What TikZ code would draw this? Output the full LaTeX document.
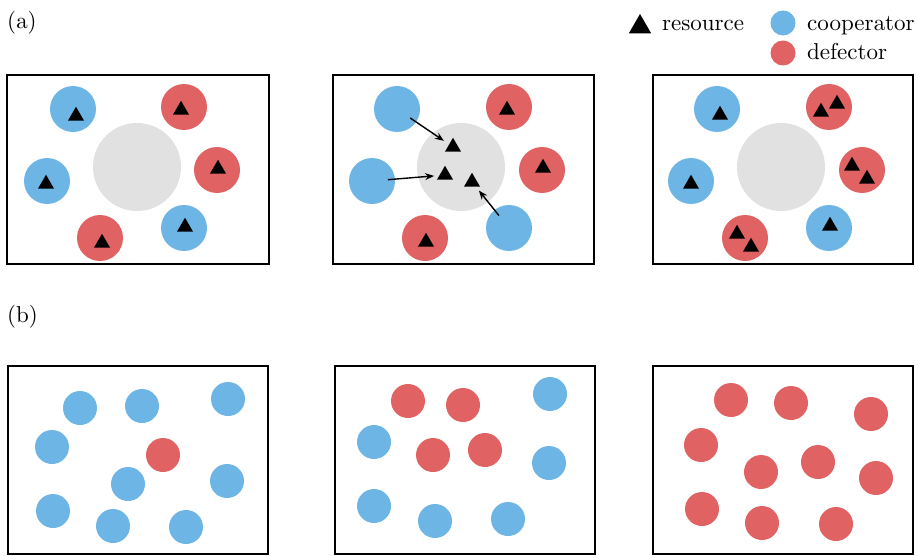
\documentclass[tikz,border=0pt]{standalone}
\usepackage{tikz}
\usetikzlibrary{shapes.geometric,arrows.meta}
\definecolor{coopblue}{RGB}{108,181,229}
\definecolor{defred}{RGB}{224,98,98}
\definecolor{poolgray}{RGB}{225,225,225}
\font\lblfont=cmr10 at 23pt

\begin{document}
\begin{tikzpicture}[x=1pt,y=-1pt,
    agent/.style={circle,inner sep=0pt,minimum size=46pt},
    coop/.style={agent,fill=coopblue},
    defe/.style={agent,fill=defred},
    tiny/.style={minimum size=34pt},
    pool/.style={circle,inner sep=0pt,minimum size=88pt,fill=poolgray},
    res/.style={regular polygon,regular polygon sides=3,fill=black,inner sep=0pt,minimum size=18.5pt},
    frame/.style={draw=black,line width=1.6pt},
    arr/.style={-{Stealth[length=9pt,width=7pt]},line width=1.4pt,shorten <=16pt,shorten >=11pt},
    lbl/.style={font=\lblfont,inner sep=0pt,anchor=base west}]
      \useasboundingbox (0,0) rectangle (918,556);

      % panel labels
      \node[lbl] (la) at (7,29) {(a)};
      \node[lbl] (lb) at (7,322) {(b)};

      % legend
      \node[res,minimum size=26pt] (legres) at (640,27) {};
      \node[lbl] (legrestxt) at (662,31) {resource};
      \node[agent,fill=coopblue,minimum size=25pt] (legcoop) at (783,23) {};
      \node[lbl] (legcooptxt) at (807,31) {cooperator};
      \node[agent,fill=defred,minimum size=25pt] (legdef) at (783,53) {};
      \node[lbl] (legdeftxt) at (807,60) {defector};

      % (a) first panel
      \draw[frame] (7,75) rectangle (269,264);
      \node[pool] (p1) at (137,167) {};
      \node[coop] (c1a) at (73,109) {};
      \node[defe] (d1a) at (184,107) {};
      \node[coop] (c1b) at (47,181) {};
      \node[defe] (d1b) at (217,170) {};
      \node[defe] (d1c) at (100,238) {};
      \node[coop] (c1c) at (184,228) {};
      \node[res] (r1a) at (76,116) {};
      \node[res] (r1b) at (181,110) {};
      \node[res] (r1c) at (46,184) {};
      \node[res] (r1d) at (218,169) {};
      \node[res] (r1e) at (102,243) {};
      \node[res] (r1f) at (185,227) {};

      % (a) second panel
      \draw[frame] (333,75) rectangle (594,264);
      \node[pool] (p2) at (461,167) {};
      \node[coop] (c2a) at (397,109) {};
      \node[defe] (d2a) at (509,107) {};
      \node[coop] (c2b) at (372,181) {};
      \node[defe] (d2b) at (542,170) {};
      \node[defe] (d2c) at (425,238) {};
      \node[coop] (c2c) at (509,228) {};
      \node[res] (r2a) at (453,147) {};
      \node[res] (r2b) at (445,175) {};
      \node[res] (r2c) at (472,182) {};
      \node[res] (r2d) at (507,110) {};
      \node[res] (r2e) at (543,168) {};
      \node[res] (r2f) at (426,242) {};
      \draw[arr] (c2a.center) -- (r2a.center);
      \draw[arr] (c2b.center) -- (r2b.center);
      \draw[arr] (c2c.center) -- (r2c.center);

      % (a) third panel
      \draw[frame] (653,75) rectangle (913,264);
      \node[pool] (p3) at (781,167) {};
      \node[coop] (c3a) at (717,109) {};
      \node[defe] (d3a) at (829,107) {};
      \node[coop] (c3b) at (691,181) {};
      \node[defe] (d3b) at (862,170) {};
      \node[defe] (d3c) at (745,238) {};
      \node[coop] (c3c) at (829,228) {};
      \node[res] (r3a) at (720,115) {};
      \node[res] (r3b) at (821,112) {};
      \node[res] (r3c) at (837,104) {};
      \node[res] (r3d) at (691,184) {};
      \node[res] (r3e) at (852,166) {};
      \node[res] (r3f) at (867,179) {};
      \node[res] (r3g) at (737,234) {};
      \node[res] (r3h) at (751,247) {};
      \node[res] (r3i) at (830,226) {};

      % (b) first panel
      \draw[frame] (8,366) rectangle (268,554);
      \node[coop,tiny] (b1a) at (80,408) {};
      \node[coop,tiny] (b1b) at (142,406) {};
      \node[coop,tiny] (b1c) at (228,399) {};
      \node[coop,tiny] (b1d) at (52,447) {};
      \node[defe,tiny] (b1e) at (163,455) {};
      \node[coop,tiny] (b1f) at (128,484) {};
      \node[coop,tiny] (b1g) at (227,481) {};
      \node[coop,tiny] (b1h) at (53,511) {};
      \node[coop,tiny] (b1i) at (113,526) {};
      \node[coop,tiny] (b1j) at (186,527) {};

      % (b) second panel
      \draw[frame] (335,366) rectangle (595,554);
      \node[defe,tiny] (b2a) at (408,401) {};
      \node[defe,tiny] (b2b) at (463,405) {};
      \node[coop,tiny] (b2c) at (550,394) {};
      \node[coop,tiny] (b2d) at (374,442) {};
      \node[defe,tiny] (b2e) at (433,455) {};
      \node[defe,tiny] (b2f) at (485,450) {};
      \node[coop,tiny] (b2g) at (549,463) {};
      \node[coop,tiny] (b2h) at (374,506) {};
      \node[coop,tiny] (b2i) at (435,521) {};
      \node[coop,tiny] (b2j) at (508,519) {};

      % (b) third panel
      \draw[frame] (653,366) rectangle (913,554);
      \node[defe,tiny] (b3a) at (731,400) {};
      \node[defe,tiny] (b3b) at (791,403) {};
      \node[defe,tiny] (b3c) at (871,414) {};
      \node[defe,tiny] (b3d) at (701,445) {};
      \node[defe,tiny] (b3e) at (761,472) {};
      \node[defe,tiny] (b3f) at (818,462) {};
      \node[defe,tiny] (b3g) at (876,478) {};
      \node[defe,tiny] (b3h) at (702,509) {};
      \node[defe,tiny] (b3i) at (762,523) {};
      \node[defe,tiny] (b3j) at (836,524) {};
    \end{tikzpicture}
\end{document}
